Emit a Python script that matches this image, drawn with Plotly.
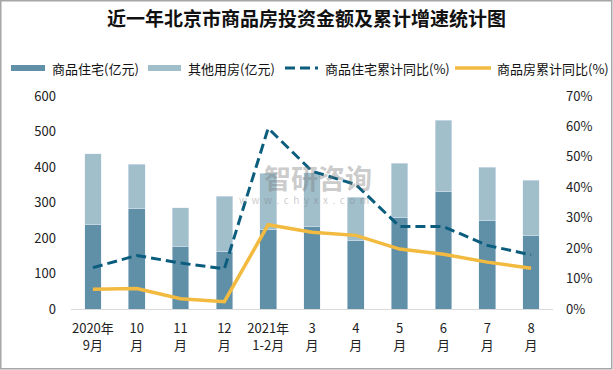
import plotly.graph_objects as go

categories = ["2020年<br>9月", "10<br>月", "11<br>月", "12<br>月", "2021年<br>1-2月",
              "3<br>月", "4<br>月", "5<br>月", "6<br>月", "7<br>月", "8<br>月"]
residential = [237, 282, 175, 163, 225, 233, 194, 259, 330, 248, 206]
total = [437, 408, 285, 318, 383, 384, 315, 411, 532, 400, 363]
other = [t - r for t, r in zip(total, residential)]
res_yoy = [13.6, 17.6, 15.1, 13.2, 59.4, 45.3, 40.9, 27.1, 27.1, 20.9, 17.8]
all_yoy = [6.5, 6.7, 3.4, 2.4, 27.7, 25.2, 24.2, 19.7, 18.0, 15.4, 13.4]
legend_names = ["商品住宅(亿元)", "其他用房(亿元)", "商品住宅累计同比(%)", "商品房累计同比(%)"]

C_RES = "#5F90A8"
C_OTH = "#A1BECB"
C_DASH = "#0B5D7E"
C_GOLD = "#F2BA3F"
FONT = "Noto Sans CJK SC"
DASH = "10px,5px"

fig = go.Figure()
fig.add_trace(go.Bar(x=categories, y=residential, marker_color=C_RES, width=0.38,
                     name=legend_names[0]))
fig.add_trace(go.Bar(x=categories, y=other, marker_color=C_OTH, width=0.38,
                     name=legend_names[1]))
fig.add_trace(go.Scatter(x=categories, y=[v / 100 for v in res_yoy], yaxis="y2", mode="lines",
                         line=dict(color=C_DASH, width=3, dash=DASH), name=legend_names[2]))
fig.add_trace(go.Scatter(x=categories, y=[v / 100 for v in all_yoy], yaxis="y2", mode="lines",
                         line=dict(color=C_GOLD, width=3.5), name=legend_names[3]))

W, H = 613, 370
ml, mr, mt, mb = 71, 60, 96, 61
pw, ph = W - ml - mr, H - mt - mb


def px(x):
    return (x - ml) / pw


def py(y):
    return (H - mb - y) / ph


fig.update_layout(
    width=W, height=H,
    margin=dict(l=ml, r=mr, t=mt, b=mb, autoexpand=False),
    barmode="stack",
    showlegend=False,
    paper_bgcolor="white", plot_bgcolor="white",
    font=dict(family=FONT, size=13, color="#222"),
    title=dict(text="<b>近一年北京市商品房投资金额及累计增速统计图</b>",
               x=0.5, xanchor="center", y=1 - 19 / H, yanchor="middle",
               font=dict(size=19, color="#111", family=FONT)),
    xaxis=dict(showgrid=False, showline=True, linecolor="#D9D9D9", linewidth=1,
               ticks="", tickfont=dict(size=13), ticklabelstandoff=7),
    yaxis=dict(range=[0, 600], dtick=100, showgrid=False, zeroline=False,
               showline=False, ticks="", tickfont=dict(size=13), ticklabelstandoff=14),
    yaxis2=dict(range=[0, 0.7], dtick=0.1, tickformat=".0%", overlaying="y", side="right",
                showgrid=False, zeroline=False, showline=False, ticks="",
                tickfont=dict(size=13), ticklabelstandoff=12),
)

# manual legend (wide swatches as in the reference)
LY = 68
leg = [
    (11, 45, 50, C_RES, 6, None),
    (148, 181, 186, C_OTH, 6, None),
    (285, 318, 323, C_DASH, 3, DASH),
    (455, 491, 495, C_GOLD, 3.5, None),
]
for (x0, x1, tx, col, w, dash), name in zip(leg, legend_names):
    fig.add_shape(type="line", xref="paper", yref="paper", x0=px(x0), x1=px(x1),
                  y0=py(LY), y1=py(LY), line=dict(color=col, width=w, dash=dash))
    fig.add_annotation(xref="paper", yref="paper", x=px(tx), y=py(LY), text=name,
                       showarrow=False, xanchor="left", yanchor="middle",
                       font=dict(size=13, color="#111", family=FONT))

# watermark
fig.add_annotation(xref="paper", yref="paper", x=px(262), y=py(177),
                   text="<b>智研咨询</b>", showarrow=False, xanchor="left", yanchor="middle",
                   font=dict(size=27, color="rgba(120,120,120,0.4)", family=FONT))
fig.add_annotation(xref="paper", yref="paper", x=px(237), y=py(199),
                   text="w  w  w  .  c  h  y  x  x  .  c  o  m", showarrow=False,
                   xanchor="left", yanchor="middle",
                   font=dict(size=10, color="rgba(120,120,120,0.4)", family=FONT))

# outer frame
fig.add_shape(type="rect", xref="paper", yref="paper",
              x0=px(0.75), x1=px(W - 1.25), y0=py(H - 1.25), y1=py(0.75),
              line=dict(color="#A6A6A6", width=1.5), layer="below")

fig.write_html("out.html", config={"displayModeBar": False},
               post_script="document.body.style.margin='0';document.body.style.overflow='hidden';")
